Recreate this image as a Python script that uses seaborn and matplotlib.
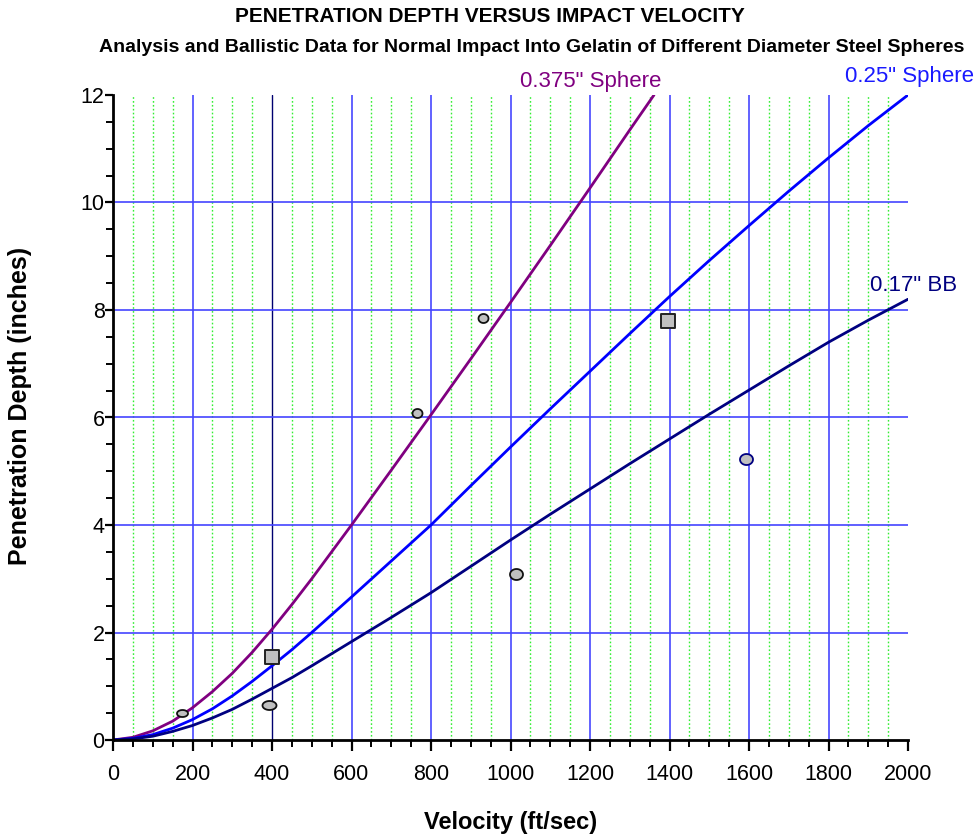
import numpy as np
import pandas as pd
import matplotlib
matplotlib.use("Agg")
import matplotlib.pyplot as plt
from matplotlib.path import Path
from matplotlib.ticker import MultipleLocator
import seaborn as sns

# ---- data ----
v_375 = [0, 50, 100, 150, 200, 250, 300, 350, 400, 450, 500, 550, 600, 700, 800, 900, 1000, 1100, 1200, 1300, 1361]
d_375 = [0, 0.05, 0.17, 0.35, 0.6, 0.9, 1.24, 1.63, 2.06, 2.52, 3.0, 3.5, 4.0, 5.02, 6.05, 7.09, 8.14, 9.2, 10.27, 11.35, 12.0]

v_25 = [0, 50, 100, 150, 200, 250, 300, 350, 400, 450, 500, 600, 700, 800, 900, 1000, 1100, 1200, 1300, 1400, 1500, 1600, 1700, 1800, 1900, 2000]
d_25 = [0, 0.03, 0.1, 0.22, 0.38, 0.58, 0.82, 1.09, 1.38, 1.68, 2.0, 2.66, 3.33, 4.0, 4.73, 5.45, 6.16, 6.86, 7.56, 8.25, 8.92, 9.57, 10.21, 10.83, 11.43, 12.0]

v_bb = [0, 50, 100, 150, 200, 250, 300, 350, 400, 450, 500, 600, 700, 800, 900, 1000, 1100, 1200, 1300, 1400, 1500, 1600, 1700, 1800, 1900, 2000]
d_bb = [0, 0.02, 0.07, 0.16, 0.27, 0.41, 0.57, 0.76, 0.96, 1.16, 1.38, 1.83, 2.28, 2.74, 3.23, 3.72, 4.2, 4.67, 5.14, 5.6, 6.06, 6.51, 6.96, 7.4, 7.81, 8.2]

circle_v = [174, 392, 764, 930, 1014, 1592]
circle_d = [0.50, 0.65, 6.09, 7.85, 3.08, 5.23]
square_v = [399, 1395]
square_d = [1.55, 7.80]

x_ticks = [0, 200, 400, 600, 800, 1000, 1200, 1400, 1600, 1800, 2000]
y_ticks = [0, 2, 4, 6, 8, 10, 12]

title = "PENETRATION DEPTH VERSUS IMPACT VELOCITY"
subtitle = "Analysis and Ballistic Data for Normal Impact Into Gelatin of Different Diameter Steel Spheres"
xlabel = "Velocity (ft/sec)"
ylabel = "Penetration Depth (inches)"
curve_labels = ['0.375" Sphere', '0.25" Sphere', '0.17" BB']

# ---- styles ----
sns.set_theme(style="white")
plt.rcParams['font.family'] = ['Liberation Sans', 'DejaVu Sans']

c_375 = '#800080'
c_25 = '#0000ff'
c_bb = '#000080'

# circle marker shapes (width, height in px) per point
circle_wh = [(11, 7), (14, 9), (10, 9), (10, 9), (13, 11), (13, 11)]
circle_edges = ['#111111', '#111111', '#111111', '#111111', '#111111', '#000080']

fig = plt.figure(figsize=(9.77, 8.38), dpi=100)
ax = fig.add_axes([113/977, 1 - 740/838, (908-113)/977, (740-95)/838])

ax.set_xlim(0, 2000)
ax.set_ylim(0, 12)

# grid lines
for v in range(50, 2000, 50):
    if v % 200 != 0:
        ax.axvline(v, color='#33ee33', lw=1.0, ls=(0, (1.2, 1.6)), zorder=1)
for v in x_ticks[1:-1]:
    if v == 400:
        ax.axvline(v, color='#000070', lw=1.0, zorder=1.5)
    else:
        ax.axvline(v, color='#5555ff', lw=1.3, zorder=1.5)
for d in y_ticks[1:-1]:
    ax.axhline(d, color='#4444ff', lw=1.2, zorder=1.5)

# curves
sns.lineplot(x=v_375, y=d_375, ax=ax, color=c_375, lw=2.0, zorder=3, sort=False)
sns.lineplot(x=v_25, y=d_25, ax=ax, color=c_25, lw=2.0, zorder=3, sort=False)
sns.lineplot(x=v_bb, y=d_bb, ax=ax, color=c_bb, lw=2.0, zorder=3, sort=False)

# data points
theta = np.linspace(0, 2*np.pi, 60)
for v, d, (w, h), ec in zip(circle_v, circle_d, circle_wh, circle_edges):
    verts = np.column_stack([w*np.cos(theta), h*np.sin(theta)])
    mk = Path(verts, closed=True)
    sz = w * 0.72
    sns.scatterplot(x=[v], y=[d], ax=ax, marker=mk, s=sz**2, color='#c0c0c0',
                    edgecolor=ec, linewidth=1.3, zorder=4)
sns.scatterplot(x=square_v, y=square_d, ax=ax, marker='s', s=(14*0.72)**2, color='#c0c0c0',
                edgecolor='#222222', linewidth=1.4, zorder=4)

# curve labels
ax.text(1024, 12.25, curve_labels[0], color=c_375, fontsize=16, ha='left', va='center', clip_on=False)
ax.text(1841, 12.34, curve_labels[1], color='#1a1aff', fontsize=16, ha='left', va='center', clip_on=False)
ax.text(1904, 8.45, curve_labels[2], color=c_bb, fontsize=16, ha='left', va='center', clip_on=False)

# axes styling
for s in ['top', 'right']:
    ax.spines[s].set_visible(False)
for s in ['left', 'bottom']:
    ax.spines[s].set_color('black')
    ax.spines[s].set_linewidth(2.0)
    ax.spines[s].set_zorder(5)

ax.set_xticks(x_ticks)
ax.set_yticks(y_ticks)
ax.xaxis.set_minor_locator(MultipleLocator(50))
ax.yaxis.set_minor_locator(MultipleLocator(0.5))
ax.tick_params(axis='both', which='major', direction='out', length=8, width=1.6,
               color='black', labelsize=15.5, labelcolor='black', pad=9,
               bottom=True, left=True)
ax.tick_params(axis='both', which='minor', direction='out', length=5, width=1.4,
               color='black', bottom=True, left=True)
ax.tick_params(axis='y', which='major', pad=0, length=6)

ax.set_xlabel(xlabel, fontsize=17, fontweight='bold', color='black')
ax.set_ylabel(ylabel, fontsize=18, fontweight='bold', color='black')
ax.xaxis.set_label_coords(0.5, (740 - 822) / 645, transform=ax.transAxes)
ax.xaxis.label.set_va('center')
ax.yaxis.set_label_coords((20 - 113) / 795, (740 - 406) / 645, transform=ax.transAxes)
ax.yaxis.label.set_va('center')

fig.text(490/977, 1 - 17/838, title, fontsize=15, fontweight='bold', ha='center', va='center', color='black')
fig.text(532/977, 1 - 47/838, subtitle, fontsize=14, fontweight='bold', ha='center', va='center', color='black')

fig.savefig('out.png', dpi=100)
